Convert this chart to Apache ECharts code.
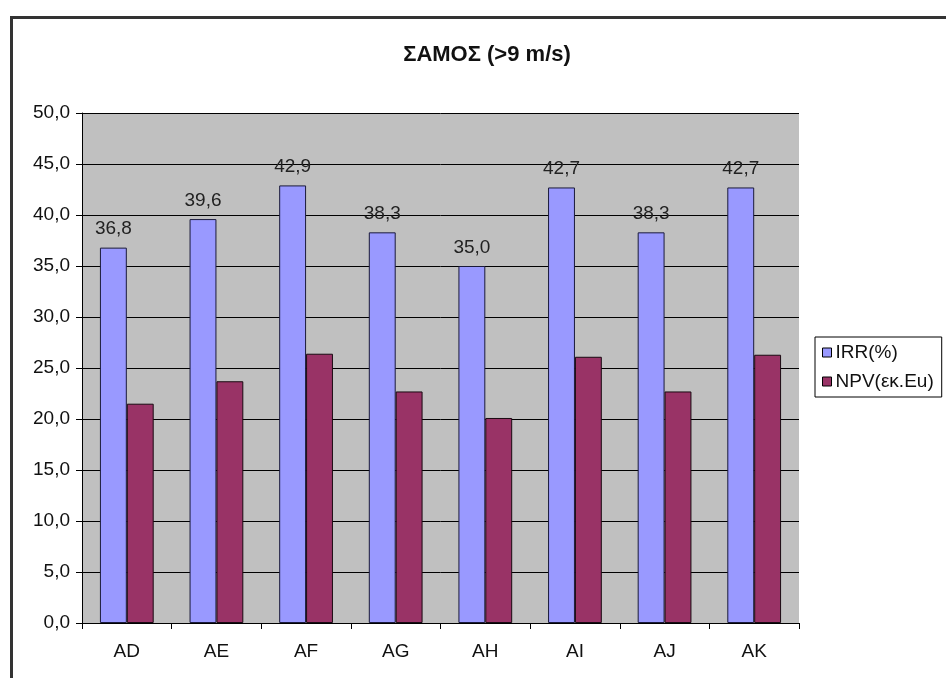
<!DOCTYPE html>
<html>
<head>
<meta charset="utf-8">
<script src="https://cdn.jsdelivr.net/npm/echarts@6/dist/echarts.min.js"></script>
<style>
html,body{margin:0;padding:0;background:#fff;}
#chart{width:946px;height:678px;}
</style>
</head>
<body>
<div id="chart"></div>
<script>
var categories = ['AD','AE','AF','AG','AH','AI','AJ','AK'];
var irrValues = [36.8, 39.6, 42.9, 38.3, 35.0, 42.7, 38.3, 42.7];
var npvValues = [21.5, 23.7, 26.4, 22.7, 20.1, 26.1, 22.7, 26.3];
var seriesNames = ['IRR(%)', 'NPV(εκ.Eu)'];
var titleText = 'ΣΑΜΟΣ (>9 m/s)';

function comma(v){ return v.toFixed(1).replace('.', ','); }

var chart = echarts.init(document.getElementById('chart'), null, {renderer:'canvas'});
var font = 'Arial, "Liberation Sans", sans-serif';
chart.setOption({
  animation:false,
  backgroundColor:'#ffffff',
  title:{
    text:titleText,
    left:482, top:39, textAlign:'center',
    textStyle:{fontFamily:font, fontSize:22, fontWeight:'bold', color:'#111'}
  },
  graphic:[{
    type:'rect', left:9, top:15, shape:{x:0,y:0,width:1000,height:700},
    style:{fill:'none', stroke:'#333', lineWidth:3}, silent:true, z:-1
  }],
  legend:{
    left:815, top:337, orient:'vertical', itemGap:10,
    width:140, itemWidth:9, itemHeight:9,
    padding:[6,8,6,7],
    borderColor:'#000', borderWidth:1, backgroundColor:'#fff',
    icon:'rect',
    textStyle:{fontFamily:font, fontSize:19, color:'#111', padding:[0,0,0,-1]},
    itemStyle:{borderColor:'#000', borderWidth:1},
    data:seriesNames
  },
  grid:{left:82, right:147, top:113, bottom:55, show:true, backgroundColor:'#c0c0c0', borderWidth:0},
  xAxis:{
    type:'category', data:categories, boundaryGap:true,
    axisLine:{lineStyle:{color:'#000', width:1}},
    axisTick:{show:true, inside:false, length:6, lineStyle:{color:'#000'}, alignWithLabel:false},
    axisLabel:{fontFamily:font, fontSize:19, color:'#111', margin:19}
  },
  yAxis:{
    type:'value', min:0, max:50, interval:5,
    axisLine:{show:true, lineStyle:{color:'#000', width:1}},
    axisTick:{show:true, length:6, lineStyle:{color:'#000'}},
    splitLine:{show:true, lineStyle:{color:'#000', width:1}},
    axisLabel:{fontFamily:font, fontSize:19, color:'#111', margin:12, formatter:function(v){return comma(v);}}
  },
  series:[
    {
      name:seriesNames[0], type:'bar', data:irrValues,
      barGap:'0%', barCategoryGap:'40%',
      itemStyle:{color:'#9999ff', borderColor:'#1a1a3a', borderWidth:1},
      label:{show:true, position:'top', distance:9, fontFamily:font, fontSize:19, color:'#222',
        formatter:function(p){return comma(p.value);}}
    },
    {
      name:seriesNames[1], type:'bar', data:npvValues,
      barGap:'0%', barCategoryGap:'40%',
      itemStyle:{color:'#993366', borderColor:'#1a0a12', borderWidth:1}
    }
  ]
});
</script>
</body>
</html>
